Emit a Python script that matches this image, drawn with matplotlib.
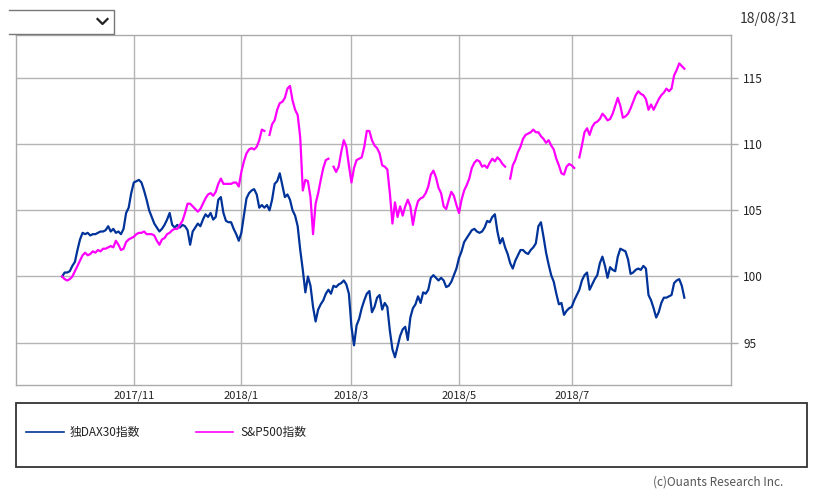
import numpy as np
import pandas as pd
import matplotlib
matplotlib.use("Agg")
import matplotlib.pyplot as plt
from matplotlib.lines import Line2D
from matplotlib.patches import Rectangle

plt.rcParams['font.family'] = ['Noto Sans CJK JP', 'DejaVu Sans']

# trading days shown on the chart (both markets closed on 12/25 and 3/30)
dates = pd.bdate_range('2017-09-22', '2018-08-31').drop(
    pd.to_datetime(['2017-12-25', '2018-03-30']))

nan = np.nan
dax = [
    100.0, 100.3, 100.3, 100.4, 100.8, 101.1, 102.0, 102.8, 103.3, 103.2,
    103.3, 103.1, 103.2, 103.2, 103.3, 103.4, 103.4, 103.5, 103.8, 103.4,
    103.6, 103.3, 103.4, 103.2, 103.6, 104.8, 105.2, 106.3, 107.1, 107.2,
    107.3, 107.1, 106.5, 105.8, 105.0, 104.5, 104.0, 103.7, 103.4, 103.6,
    103.9, 104.3, 104.8, 103.9, 103.7, 103.9, 103.7, 103.9, 103.8, 103.5,
    102.4, 103.4, 103.7, 104.0, 103.8, 104.3, 104.7, 104.5, 104.8, 104.3,
    104.5, 105.8, 106.0, 104.8, 104.2, 104.1, 104.1, 103.6, 103.2, 102.7,
    103.3, 104.6, 105.9, 106.3, 106.5, 106.6, 106.2, 105.2, 105.4, 105.2,
    105.4, 105.0, 105.8, 107.0, 107.2, 107.8, 106.9, 106.0, 106.2, 105.8,
    105.0, 104.6, 103.8, 102.0, 100.5, 98.8, 100.0, 99.3, 97.7, 96.6,
    97.5, 97.9, 98.2, 98.7, 99.0, 98.7, 99.3, 99.2, 99.4, 99.5,
    99.7, 99.4, 98.7, 96.2, 94.8, 96.3, 96.8, 97.6, 98.2, 98.7,
    98.9, 97.3, 97.7, 98.4, 98.6, 97.5, 98.0, 97.7, 95.9, 94.5,
    93.9, 94.7, 95.5, 96.0, 96.2, 95.2, 96.9, 97.6, 97.9, 98.5,
    98.0, 98.8, 98.7, 99.0, 99.9, 100.1, 99.9, 99.7, 99.9, 99.7,
    99.2, 99.3, 99.6, 100.1, 100.6, 101.4, 101.9, 102.6, 102.9, 103.2,
    103.5, 103.6, 103.4, 103.3, 103.4, 103.7, 104.2, 104.1, 104.5, 104.7,
    103.4, 102.5, 102.9, 102.2, 101.7, 101.0, 100.6, 101.2, 101.6, 102.0,
    102.0, 101.8, 101.7, 102.0, 102.2, 102.5, 103.8, 104.1, 103.0, 101.8,
    100.9, 100.1, 99.6, 98.7, 97.9, 98.0, 97.1, 97.4, 97.6, 97.7,
    98.2, 98.6, 99.0, 99.7, 100.1, 100.3, 99.0, 99.4, 99.8, 100.1,
    101.0, 101.5, 100.8, 99.9, 100.7, 100.5, 100.4, 101.5, 102.1, 102.0,
    101.9, 101.3, 100.2, 100.3, 100.5, 100.6, 100.5, 100.8, 100.6, 98.6,
    98.2, 97.6, 96.9, 97.3, 98.0, 98.4, 98.4, 98.5, 98.6, 99.5,
    99.7, 99.8, 99.3, 98.4,
]
spx = [
    100.0, 99.8, 99.7, 99.8, 100.0, 100.4, 100.8, 101.2, 101.6, 101.8,
    101.6, 101.7, 101.9, 101.8, 102.0, 101.9, 102.1, 102.1, 102.2, 102.3,
    102.2, 102.7, 102.4, 102.0, 102.1, 102.6, 102.8, 102.9, 103.0, 103.2,
    103.3, 103.3, 103.4, 103.2, 103.2, 103.2, 103.1, 102.7, 102.4, 102.8,
    102.9, 103.2, 103.3, 103.5, 103.6, 103.6, 103.9, 104.2, 104.8, 105.5,
    105.5, 105.3, 105.1, 104.9, 105.1, 105.5, 105.9, 106.2, 106.3, 106.1,
    106.4, 107.0, 107.4, 107.0, 107.0, 107.0, 107.0, 107.1, 107.1, 106.8,
    107.9, 108.7, 109.3, 109.6, 109.7, 109.6, 109.8, 110.3, 111.1, 111.0,
    nan, 110.7, 111.5, 111.8, 112.6, 113.1, 113.2, 113.5, 114.2, 114.4,
    113.3, 112.6, 112.2, 110.5, 106.5, 107.3, 107.2, 106.0, 103.2, 105.5,
    106.3, 107.3, 108.2, 108.8, 108.9, nan, 108.3, 107.9, 108.3, 109.4,
    110.3, 109.8, 108.4, 107.1, 108.2, 108.8, 108.9, 109.0, 109.8, 111.0,
    111.0, 110.3, 109.9, 109.7, 109.3, 108.4, 108.3, 108.1, 106.3, 104.0,
    105.6, 104.5, 105.3, 104.6, 105.3, 105.8, 105.3, 103.9, 105.0, 105.7,
    105.9, 106.0, 106.3, 106.8, 107.7, 108.0, 107.5, 106.7, 106.3, 105.3,
    105.1, 105.8, 106.4, 106.1, 105.4, 104.8, 105.8, 106.5, 106.9, 107.4,
    108.2, 108.6, 108.8, 108.7, 108.3, 108.4, 108.2, 108.6, 108.9, 108.7,
    109.0, 108.8, 108.5, 108.3, nan, 107.4, 108.4, 108.8, 109.4, 109.8,
    110.4, 110.7, 110.8, 110.9, 111.1, 110.9, 110.9, 110.6, 110.4, 110.1,
    110.3, 109.9, 109.6, 108.9, 108.4, 107.8, 107.7, 108.3, 108.5, 108.4,
    108.2, nan, 109.0, 109.9, 110.9, 111.2, 110.7, 111.3, 111.6, 111.7,
    111.9, 112.3, 112.1, 111.8, 111.9, 112.3, 112.9, 113.5, 112.9, 112.0,
    112.1, 112.3, 112.7, 113.2, 113.7, 114.0, 113.8, 113.7, 113.4, 112.6,
    113.0, 112.6, 113.0, 113.4, 113.7, 113.9, 114.2, 114.0, 114.2, 115.2,
    115.6, 116.1, 115.9, 115.7,
]
series_names = ['独DAX30指数', 'S&P500指数']
series_colors = ['#003399', '#ff00ff']
yticks = [95, 100, 105, 110, 115]
tick_months = [11, 1, 3, 5, 7]
as_of = '18/08/31'
credit = '(c)Ouants Research Inc.'

W, H = 816, 498
fig = plt.figure(figsize=(W / 100, H / 100), dpi=100)

def fx(px):
    return px / W

def fy(py):
    return 1 - py / H

ax = fig.add_axes([fx(16), fy(385), fx(730.7) - fx(16), fy(35) - fy(385)])
x = np.arange(len(dates))
ax.plot(x, dax, color=series_colors[0], lw=1.6, zorder=3)
ax.plot(x, spx, color=series_colors[1], lw=1.6, zorder=3)

ax.set_xlim(-18.0, 261.1)
ax.set_ylim(91.8, 118.25)

# first trading day of each labelled month
xt, xl = [], []
for m in tick_months:
    idx = int(np.argmax(dates.month == m))
    xt.append(idx)
    xl.append(f"{dates[idx].year}/{m}")
ax.set_xticks(xt)
ax.set_xticklabels(xl, fontsize=8, color='#222222')
ax.set_yticks(yticks)
ax.set_yticklabels([str(v) for v in yticks], fontsize=8.5, color='#222222')
ax.yaxis.tick_right()
ax.tick_params(axis='y', length=5, color='#aaaaaa', width=1, pad=4)
ax.tick_params(axis='x', length=0, pad=4)
for lab in ax.get_yticklabels():
    lab.set_horizontalalignment('left')
ax.grid(True, color='#b4b4b4', lw=1.0, zorder=1)
for s in ax.spines.values():
    s.set_color('#aaaaaa')
    s.set_linewidth(1.0)

# dropdown box top-left
fig.add_artist(Line2D([fx(9), fx(114.3), fx(114.3), fx(9)],
                      [fy(10.3), fy(10.3), fy(34), fy(34)],
                      color='#777777', lw=1.0))
fig.add_artist(Line2D([fx(97.5), fx(102.5), fx(107.5)],
                      [fy(19), fy(24), fy(19)], color='#222222', lw=1.6))

fig.text(fx(797), fy(19), as_of, ha='right', va='center', fontsize=10,
         color='#333333')

# legend box
fig.add_artist(Rectangle((fx(16), fy(466.7)), fx(806.7) - fx(16),
                         fy(403.3) - fy(466.7), fill=False,
                         edgecolor='#333333', lw=1.3))
leg_x = [(26, 64, 70), (196, 233, 240)]
for (x0, x1, tx), name, col in zip(leg_x, series_names, series_colors):
    fig.add_artist(Line2D([fx(x0), fx(x1)], [fy(432), fy(432)], color=col, lw=1.2))
    fig.text(fx(tx), fy(432), name, ha='left', va='center', fontsize=8.5,
             color='#222222')

fig.text(fx(783), fy(482.5), credit, ha='right', va='center', fontsize=8.5,
         color='#555555')

fig.savefig('out.png', dpi=100)
